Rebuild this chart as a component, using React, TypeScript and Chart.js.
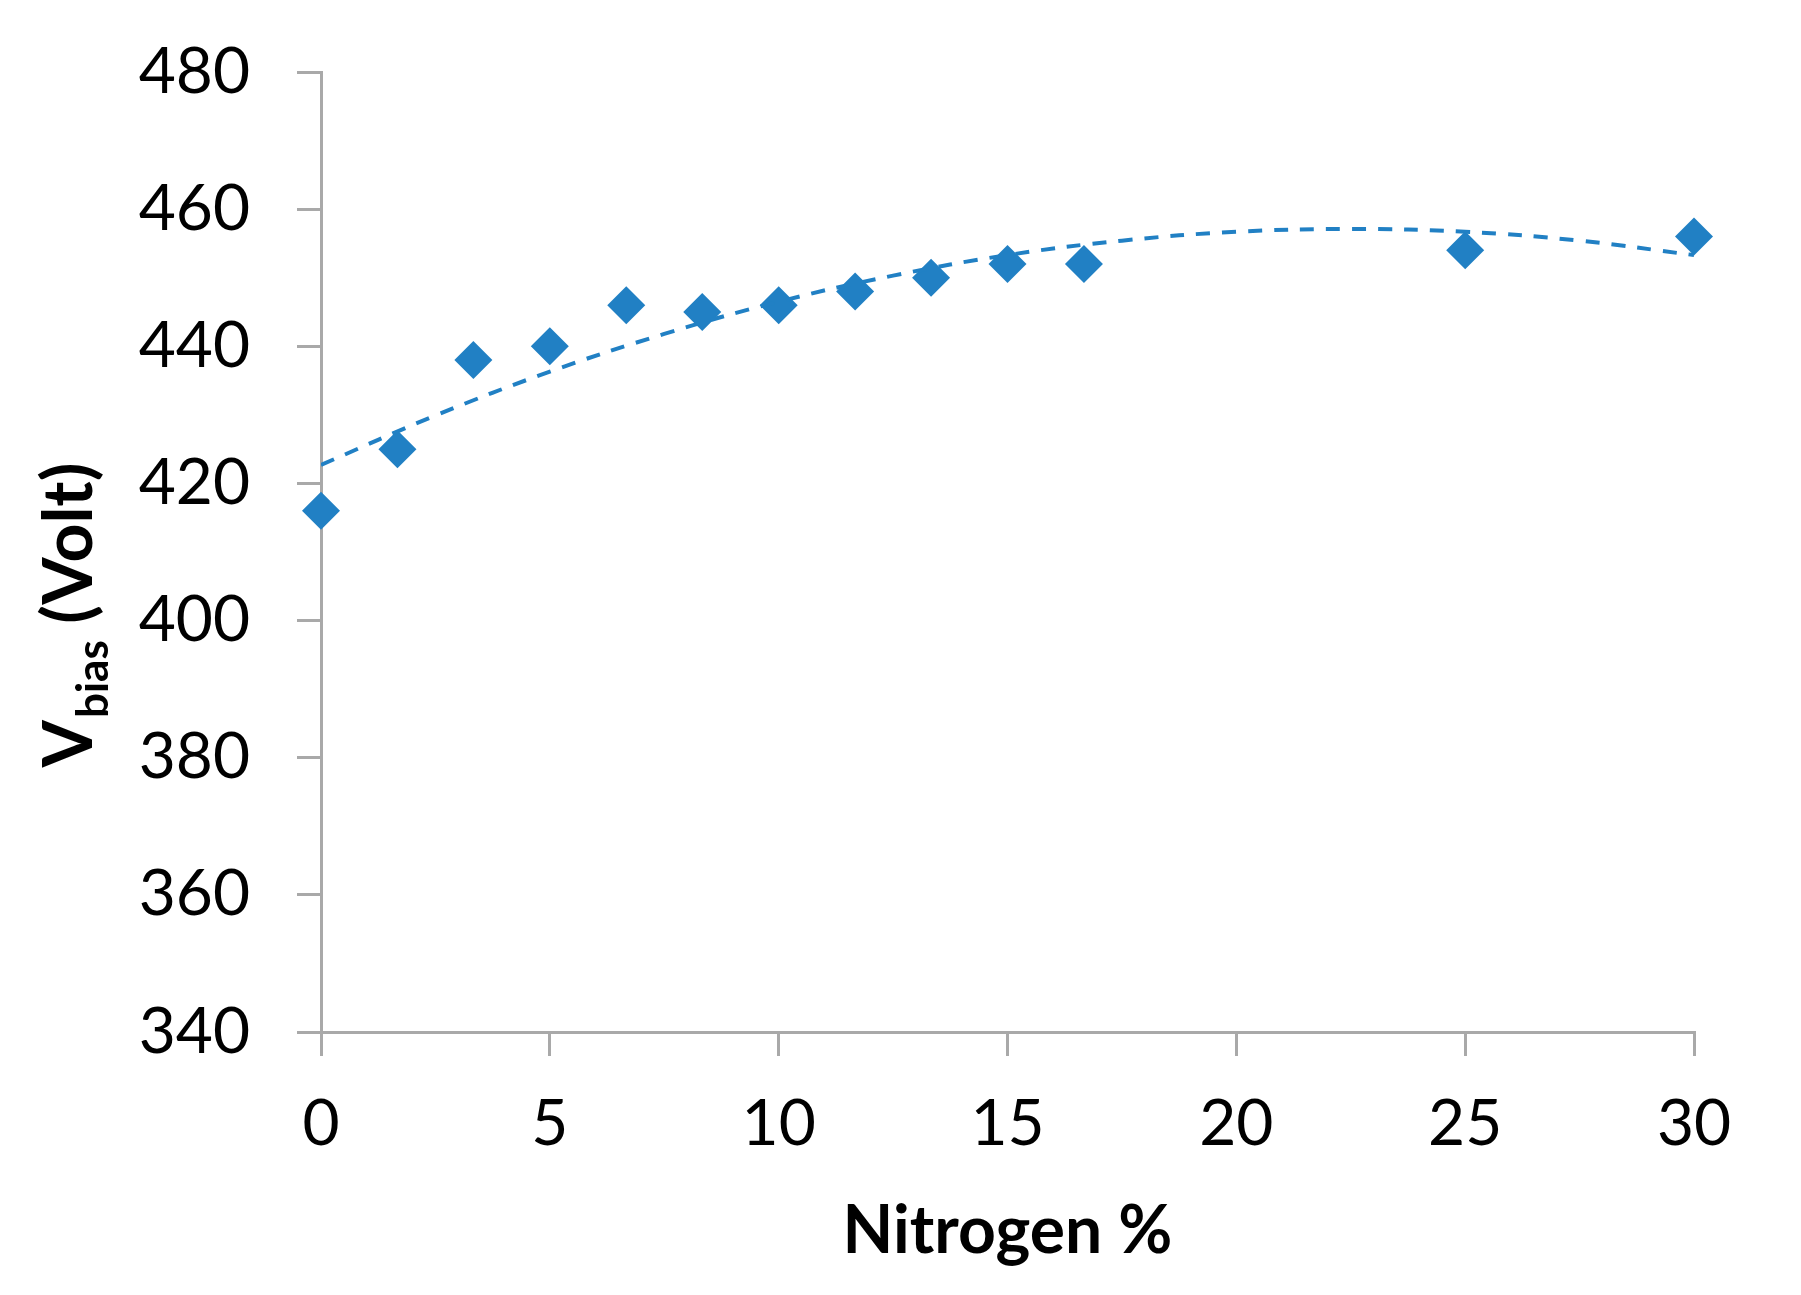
import { useEffect, useRef } from 'react';
import { Chart, registerables } from 'chart.js';

Chart.register(...registerables);

// Measured points
const nitrogen = [0, 1.67, 3.33, 5, 6.67, 8.33, 10, 11.67, 13.33, 15, 16.67, 25, 30];
const vbias = [416, 425, 438, 440, 446, 445, 446, 448, 450, 452, 452, 454, 456];

// Dashed trend line
const trendX = [0, 2.5, 5, 7.5, 10, 12.5, 15, 17.5, 20, 22.5, 25, 27.5, 30];
const trendY = [422.7, 429.9, 436.3, 441.8, 446.5, 450.3, 453.3, 455.4, 456.7, 457.1, 456.7, 455.4, 453.3];

// Axes
const xRange = [0, 30];
const yRange = [340, 480];
const xStep = 5;
const yStep = 20;

const xTitle = 'Nitrogen %';
const yTitleMain = 'V';
const yTitleSub = 'bias';
const yTitleUnit = ' (Volt)';

const blue = '#2180C4';
const axisGrey = '#A9A9A9';
const fontFamily = 'Lato, "Open Sans", sans-serif';

const axisTitles = {
  id: 'axisTitles',
  afterDraw(chart: Chart) {
    const { ctx, chartArea } = chart;
    ctx.save();
    ctx.fillStyle = '#000';

    // x title
    ctx.font = `bold 66px ${fontFamily}`;
    ctx.textAlign = 'center';
    ctx.textBaseline = 'alphabetic';
    ctx.fillText(xTitle, (chartArea.left + chartArea.right) / 2, chartArea.bottom + 221);

    // y title with subscript
    const main = `bold 68px ${fontFamily}`;
    const sub = `bold 44px ${fontFamily}`;
    ctx.font = main;
    const wV = ctx.measureText(yTitleMain).width;
    const wUnit = ctx.measureText(yTitleUnit).width;
    ctx.font = sub;
    const wSub = ctx.measureText(yTitleSub).width;
    const total = wV + 2 + wSub + wUnit;
    const cy = (chartArea.top + chartArea.bottom) / 2 + 63;
    ctx.translate(chartArea.left - 229, cy + total / 2);
    ctx.rotate(-Math.PI / 2);
    ctx.textAlign = 'left';
    ctx.font = main;
    ctx.fillText(yTitleMain, 0, 0);
    ctx.font = sub;
    ctx.fillText(yTitleSub, wV + 2, 16);
    ctx.font = main;
    ctx.fillText(yTitleUnit, wV + 2 + wSub, 0);
    ctx.restore();
  }
};

const App = () => {
  const chartRef = useRef<HTMLCanvasElement | null>(null);
  const chartInstance = useRef<Chart | null>(null);

  useEffect(() => {
    if (!chartRef.current) return;
    if (chartInstance.current) chartInstance.current.destroy();
    const ctx = chartRef.current.getContext('2d');
    if (!ctx) return;

    chartInstance.current = new Chart(ctx, {
      type: 'scatter',
      data: {
        datasets: [
          {
            label: 'Trend',
            data: trendX.map((x, i) => ({ x, y: trendY[i] })),
            showLine: true,
            borderColor: blue,
            borderWidth: 4,
            borderDash: [14, 12],
            pointRadius: 0,
            tension: 0.4,
            fill: false
          },
          {
            label: 'Vbias',
            data: nitrogen.map((x, i) => ({ x, y: vbias[i] })),
            pointStyle: 'rectRot',
            pointRadius: 19,
            pointBackgroundColor: blue,
            pointBorderWidth: 0,
            clip: false
          }
        ]
      },
      options: {
        animation: false,
        responsive: true,
        maintainAspectRatio: false,
        layout: { padding: { left: 0, right: 107, top: 72, bottom: 0 } },
        plugins: {
          legend: { display: false },
          tooltip: { enabled: false }
        },
        scales: {
          x: {
            type: 'linear',
            min: xRange[0],
            max: xRange[1],
            afterFit: (scale: any) => { scale.height = 263; },
            ticks: {
              stepSize: xStep,
              color: '#000',
              padding: 30,
              font: { family: fontFamily, size: 64 }
            },
            grid: {
              drawOnChartArea: false,
              drawTicks: true,
              tickLength: 24,
              color: axisGrey,
              lineWidth: 3
            },
            border: { display: true, color: axisGrey, width: 3 }
          },
          y: {
            type: 'linear',
            min: yRange[0],
            max: yRange[1],
            afterFit: (scale: any) => {
              scale.width = 321;
              scale.paddingTop = 0;
              scale.paddingBottom = 0;
            },
            ticks: {
              stepSize: yStep,
              color: '#000',
              padding: 47,
              font: { family: fontFamily, size: 64 }
            },
            grid: {
              drawOnChartArea: false,
              drawTicks: true,
              tickLength: 24,
              color: axisGrey,
              lineWidth: 3
            },
            border: { display: true, color: axisGrey, width: 3 }
          }
        }
      },
      plugins: [axisTitles]
    });

    return () => {
      if (chartInstance.current) {
        chartInstance.current.destroy();
        chartInstance.current = null;
      }
    };
  }, []);

  return (
    <div style={{ position: 'absolute', left: 0, top: 0, width: 1801, height: 1295, background: '#fff' }}>
      <canvas ref={chartRef}></canvas>
    </div>
  );
};

export default App;
